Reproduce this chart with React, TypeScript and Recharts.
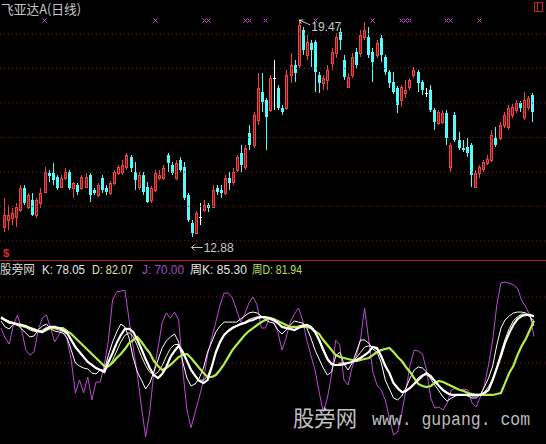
import {
  ComposedChart,
  LineChart,
  Bar,
  Line,
  XAxis,
  YAxis,
  ReferenceLine,
  ReferenceDot,
} from "recharts";

// daily bars
const OPEN = [
  13.18, 13.4, 13.46, 13.49, 13.7, 14.37, 13.79, 14.0, 13.55, 13.91,
  14.25, 14.82, 14.82, 14.7, 14.4, 14.67, 14.85, 14.37, 14.46, 14.37,
  14.4, 14.76, 14.31, 14.16, 14.67, 14.37, 14.22, 14.52, 14.82, 14.85,
  15.01, 15.31, 14.85, 14.4, 14.76, 14.4, 14.0, 14.31, 14.67, 14.67,
  15.37, 15.07, 14.67, 15.22, 15.01, 14.16, 13.3, 13.0, 13.49, 13.7,
  13.85, 13.79, 14.37, 14.31, 14.22, 14.67, 14.55, 14.91, 15.43, 15.01,
  16.04, 15.67, 16.43, 17.28, 17.04, 16.74, 17.71, 17.4, 16.8, 16.8,
  17.8, 18.1, 18.1, 19.17, 18.41, 18.77, 18.8, 17.8, 17.56, 17.65,
  18.16, 18.47, 19.11, 18.25, 17.44, 17.8, 18.5, 18.47, 18.95, 18.95,
  18.5, 18.41, 18.92, 18.35, 17.89, 17.59, 17.4, 17.04, 17.25, 17.43,
  17.8, 17.89, 17.59, 17.25, 17.34, 16.74, 16.34, 16.37, 16.65, 15.01,
  16.58, 15.83, 15.58, 15.61, 15.67, 14.4, 14.82, 14.94, 15.13, 15.22,
  15.89, 15.89, 16.28, 16.22, 16.58, 16.74, 16.95, 16.52, 16.83, 17.19,
];
const HIGH = [
  14.06, 13.85, 13.76, 13.91, 14.46, 14.46, 14.22, 14.22, 14.06, 14.37,
  15.0, 14.91, 15.13, 14.76, 14.76, 14.97, 14.91, 14.55, 14.52, 14.76,
  14.82, 14.82, 14.37, 14.52, 14.76, 14.46, 14.58, 14.91, 15.07, 15.22,
  15.43, 15.37, 15.16, 14.85, 14.85, 14.55, 14.43, 14.91, 14.91, 15.07,
  15.43, 15.16, 15.22, 15.31, 15.16, 14.22, 13.4, 13.67, 13.91, 14.0,
  13.91, 14.46, 14.46, 14.46, 14.76, 14.85, 14.97, 15.37, 15.67, 15.67,
  16.28, 16.67, 17.86, 17.86, 17.1, 17.8, 18.25, 17.5, 16.89, 17.95,
  18.47, 18.25, 19.47, 19.26, 19.01, 18.86, 18.86, 17.89, 17.8, 18.1,
  18.62, 19.08, 19.23, 18.41, 17.86, 18.47, 18.62, 19.17, 19.41, 19.26,
  18.62, 18.86, 19.01, 18.41, 17.95, 17.89, 17.46, 17.5, 17.65, 17.71,
  18.04, 17.95, 17.65, 17.4, 17.5, 16.8, 16.74, 16.74, 16.74, 15.73,
  16.67, 16.07, 15.83, 15.89, 15.73, 14.91, 15.07, 15.22, 15.37, 16.13,
  16.22, 16.37, 16.67, 16.89, 16.92, 17.04, 17.01, 17.28, 17.16, 17.25,
];
const LOW = [
  13.03, 13.09, 13.24, 13.18, 13.64, 13.85, 13.73, 13.52, 13.46, 13.76,
  14.22, 14.55, 14.46, 14.31, 14.37, 14.61, 14.31, 14.06, 14.16, 14.31,
  14.37, 13.94, 14.16, 14.1, 14.22, 14.16, 14.16, 14.46, 14.76, 14.76,
  14.91, 14.85, 14.31, 14.31, 14.16, 13.91, 13.91, 14.25, 14.61, 14.61,
  14.85, 14.76, 14.61, 14.85, 14.0, 13.34, 12.88, 12.97, 13.24, 13.64,
  13.64, 13.76, 14.16, 14.06, 14.16, 14.31, 14.46, 14.85, 14.85, 14.91,
  15.52, 15.58, 16.28, 16.68, 15.52, 16.68, 16.74, 16.74, 16.58, 16.74,
  17.56, 17.59, 18.01, 18.41, 18.25, 18.04, 17.28, 17.25, 17.34, 17.34,
  17.95, 18.32, 18.56, 17.65, 17.4, 17.71, 18.01, 18.35, 18.86, 18.32,
  17.59, 18.32, 18.19, 17.8, 17.4, 17.22, 16.65, 16.83, 17.1, 17.34,
  17.71, 17.28, 17.19, 17.13, 16.68, 16.13, 16.28, 16.31, 15.67, 14.85,
  15.76, 15.52, 15.46, 15.31, 14.4, 14.37, 14.67, 14.85, 15.07, 15.16,
  15.61, 15.83, 16.19, 16.13, 16.49, 16.65, 16.68, 16.43, 16.74, 16.37,
];
const CLOSE = [
  13.55, 13.55, 13.61, 13.79, 14.37, 13.91, 14.16, 13.55, 14.0, 14.22,
  14.85, 14.73, 14.61, 14.37, 14.67, 14.85, 14.37, 14.52, 14.25, 14.7,
  14.7, 14.16, 14.22, 14.46, 14.31, 14.25, 14.52, 14.85, 15.0, 15.07,
  15.37, 14.97, 14.61, 14.76, 14.25, 13.94, 14.37, 14.82, 14.76, 14.97,
  15.13, 14.82, 15.13, 14.91, 14.06, 13.4, 13.0, 13.61, 13.49, 13.85,
  13.76, 14.31, 14.25, 14.22, 14.67, 14.52, 14.85, 15.31, 15.07, 15.58,
  15.67, 16.58, 17.4, 16.98, 16.52, 17.71, 17.71, 16.8, 16.68, 17.8,
  18.1, 17.86, 19.32, 18.56, 18.8, 18.56, 17.89, 17.56, 17.71, 17.95,
  18.5, 18.95, 18.86, 17.74, 17.74, 18.35, 18.1, 19.01, 19.17, 18.41,
  18.19, 18.77, 18.41, 17.89, 17.56, 17.28, 16.89, 17.43, 17.34, 17.65,
  17.95, 17.56, 17.34, 17.25, 16.74, 16.37, 16.68, 16.65, 15.89, 15.67,
  15.83, 15.58, 15.52, 15.43, 14.76, 14.82, 15.01, 15.16, 15.25, 15.98,
  15.67, 16.28, 16.58, 16.8, 16.83, 16.95, 16.8, 17.04, 17.1, 16.68,
];

// KDJ indicator (daily K/D/J plus weekly K/D)
const KDJ_K = [
  81.8, 77.3, 75.8, 79.5, 78.8, 75.8, 72.7, 69.7, 70.5, 75,
  78, 79.5, 75.8, 74.2, 73.5, 72.7, 69, 59.8, 50, 47.7,
  46.2, 45.5, 42.4, 41.7, 44.7, 44.7, 56, 65.9, 73.5, 79.5,
  77.3, 69, 53.8, 43.2, 37.1, 30.3, 34.9, 43.2, 52.3, 61.4,
  66.7, 69.7, 72, 65.9, 50.7, 38.6, 32.6, 34.1, 38.6, 46.2,
  58.3, 65.9, 73.5, 78, 81, 81, 81, 81, 83.3, 85.6,
  87.9, 88.6, 87.9, 85.6, 82.6, 81, 80.3, 75, 72, 75,
  78.8, 81.8, 81, 80.3, 76.5, 69, 59.8, 53, 46.2, 40.9,
  43.2, 55.3, 58.3, 49.2, 44.7, 50, 58.3, 67.4, 67.4, 65.1,
  60.6, 58.3, 50.7, 37.1, 30.3, 23.5, 22, 25, 31.1, 38.6,
  44.7, 47, 46.2, 43.2, 37.9, 33.3, 28.8, 24.2, 21.2, 23.5,
  25, 25.8, 25.8, 25, 23.5, 23.5, 25.8, 31.8, 38.6, 47.7,
  63.6, 76.5, 82.6, 85.6, 87.9, 88.6, 88.6, 87.9, 85.6, 78.05,
];
const KDJ_D = [
  84, 82, 80, 80, 79, 78, 77, 75, 74, 74,
  75, 77, 77, 76, 75, 74, 72, 68, 63, 58,
  54, 51, 48, 46, 45, 44, 47, 52, 59, 66,
  71, 73, 70, 63, 55, 48, 43, 41, 43, 48,
  55, 61, 64, 64, 59, 52, 45, 40, 37, 37,
  40, 48, 57, 65, 71, 75, 77, 78, 80, 81,
  83, 84, 85, 85, 84, 83, 82, 80, 78, 77,
  76, 77, 78, 79, 79, 78, 74, 68, 61, 54,
  49, 48, 50, 50, 50, 51, 54, 58, 62, 63,
  62, 60, 56, 49, 42, 35, 30, 28, 28, 31,
  35, 39, 41, 41, 39, 36, 32, 29, 27, 26,
  26, 26, 26, 26, 25, 25, 26, 28, 32, 38,
  47, 58, 68, 76, 82, 85, 87, 87, 85, 82.07,
];
const KDJ_J = [
  76.5, 69, 64.4, 78.8, 86.4, 75, 59.8, 56, 58.3, 75,
  84, 86.4, 76.5, 66, 71.2, 76.5, 67.4, 52.3, 27.3, 37.1,
  27.3, 39.4, 22, 35.6, 35.6, 48.5, 67.4, 97.7, 103.8, 104.5,
  105.3, 82.6, 62.1, 40.9, 16.7, -6, 12.9, 43.2, 61.4, 80.3,
  87.9, 84, 88.6, 82.6, 44.7, 14.4, 1, 12.9, 24.2, 37.1,
  56, 69, 81, 93.9, 103, 103, 99.2, 90.2, 81, 87.1,
  95.5, 100, 93.9, 76.5, 76.5, 84, 81, 73.5, 59.8, 69,
  81, 87.1, 91.7, 82.6, 67.4, 56, 44.7, 28, 12.9, 23.5,
  40.9, 67.4, 63.6, 37.1, 33.3, 47, 55.3, 67.4, 91.7, 67.4,
  43.2, 33.3, 29.5, 22, 8.3, -4.5, -2.3, 12.1, 29.5, 48.5,
  59.8, 59, 56.8, 44.7, 23.5, 15.9, 16.7, 14.4, 19.7, 29.5,
  31.1, 29.5, 30.3, 29.5, 19.7, 16.7, 24.2, 33.3, 48.5, 67.4,
  93.9, 110.6, 111.4, 110.6, 109.1, 106.8, 97.7, 92.4, 86.4, 70,
];
const WEEK_K = [
  84.1, 82.6, 81, 80.3, 79.5, 78.8, 78, 76.5, 75, 74.2,
  73.5, 75.8, 77.3, 77.3, 76.5, 75, 72.7, 67.4, 62.1, 58.3,
  54.5, 50.8, 48.5, 46.2, 44.7, 43.2, 50.8, 57.6, 65.2, 71.2,
  75.8, 75.8, 73.5, 67.4, 60.6, 53, 46.2, 40.9, 38.6, 41.7,
  47, 54.5, 59.1, 62.9, 58.3, 51.5, 44.7, 40.2, 36.4, 34.8,
  37.1, 47, 58.3, 65.9, 71.2, 74.2, 76.5, 78, 79.5, 80.3,
  81.8, 82.6, 84.1, 84.8, 84.8, 84.1, 82.6, 80.3, 77.3, 76.5,
  75.8, 75, 76.5, 78, 78.8, 77.3, 73.5, 67.4, 59.8, 53,
  49.2, 48.5, 48.5, 49.2, 50, 50.8, 52.3, 53.8, 56, 58.3,
  62.1, 61.4, 55.3, 47.7, 42.4, 34.8, 31.1, 28, 28.8, 31.1,
  34.1, 37.1, 40.2, 42.4, 40.2, 36.4, 32.6, 29.5, 27.3, 25.8,
  25.8, 25.8, 25.8, 25.8, 25.8, 25.8, 25.8, 27.3, 29.5, 37.1,
  46.2, 55.3, 65.2, 72.7, 78.8, 83.3, 85.6, 86.4, 86.4, 85.3,
];
const WEEK_D = [
  84.8, 82.6, 81, 80.3, 78.8, 78, 77.3, 76.5, 75.8, 74.2,
  73.5, 75, 76.5, 76.5, 76.5, 76.5, 74.2, 72, 69, 65.9,
  62.9, 59.8, 56.8, 53.8, 50.8, 47.7, 47.7, 50, 53.8, 56.8,
  60.6, 65.2, 67.4, 69.7, 65.9, 61.4, 57.6, 51.5, 47.7, 44.7,
  46.2, 48.5, 51.5, 54.5, 56, 56.8, 53.8, 50, 46.2, 42.4,
  39.4, 39.4, 40.9, 44.7, 49.2, 54.5, 59.8, 63.6, 67.4, 71.2,
  74.2, 76.5, 78.8, 81, 82.6, 84.1, 83.3, 81.8, 80.3, 78.8,
  77.3, 77.3, 77.3, 77.3, 77.3, 76.5, 74.2, 72, 67.4, 63.6,
  59.8, 56, 54.5, 53.8, 53, 52.3, 51.5, 52.3, 53, 53.8,
  56, 58.3, 59.8, 60.6, 61.4, 58.3, 54.5, 51.5, 47, 43.2,
  38.6, 34.1, 32.6, 31.8, 32.6, 34.8, 36.4, 35.6, 34.1, 32.6,
  31.1, 29.5, 28.8, 27.3, 26.5, 25.8, 25.8, 25.8, 25.8, 25.8,
  26.5, 27.3, 34.8, 42.4, 47.7, 56, 62.9, 68.2, 75, 81.94,
];

// bars flagged in the signal row along the top edge
const SIGNAL_BARS = [10, 37, 49, 50, 59, 60, 64, 76, 90, 97, 98, 99, 108, 109, 116];
const SIGNAL_PRICE = 19.48;

const PRICE_GRID = [19.04, 18.0, 16.95, 15.9, 14.85, 13.81, 12.76];
const KDJ_GRID = [100, 50];

const PEAK = { bar: 72, price: 19.47 };
const TROUGH = { bar: 46, price: 12.88 };

const W = 546;
const PRICE_H = 261;
const KDJ_TOP = 262;
const KDJ_H = 182;
const PAD = { left: 1, right: 12 };

const UP = "#f04444";
const UP_FILL = "#7a1c1c";
const DOWN = "#54fcfc";
const GRID = "#8c2222";
const LABEL = "#c8c8c8";
const SANS = "'Liberation Sans', Arial, 'Noto Sans CJK SC', sans-serif";
const CJK = "'Noto Sans CJK SC', 'Liberation Sans', sans-serif";

const rows = OPEN.map((open, i) => ({
  i,
  open,
  high: HIGH[i],
  low: LOW[i],
  close: CLOSE[i],
  range: [LOW[i], HIGH[i]],
  signal: SIGNAL_BARS.includes(i) ? SIGNAL_PRICE : null,
  k: KDJ_K[i],
  d: KDJ_D[i],
  j: KDJ_J[i],
  wk: WEEK_K[i],
  wd: WEEK_D[i],
}));

function Candle(props: any) {
  const { x, y, width, height, payload } = props;
  if (x == null || y == null || !payload) return null;
  const { open, close, high, low } = payload;
  const top = Math.min(y, y + height);
  const span = Math.abs(height);
  const toY = (p: number) =>
    high === low ? top : top + ((high - p) / (high - low)) * span;
  const c = Math.round(x + width / 2);
  const yh = Math.round(toY(high));
  const yl = Math.round(toY(low));
  const yo = Math.round(toY(open));
  const yc = Math.round(toY(close));

  if (close > open) {
    // hollow red body, wick stops at the body
    return (
      <g stroke={UP} strokeWidth={1} shapeRendering="crispEdges">
        <line x1={c + 0.5} x2={c + 0.5} y1={yh} y2={yc} />
        <line x1={c + 0.5} x2={c + 0.5} y1={yo} y2={yl} />
        <rect x={c - 0.5} y={yc + 0.5} width={2} height={Math.max(yo - yc, 1)} fill={UP_FILL} />
      </g>
    );
  }
  if (close < open) {
    return (
      <g shapeRendering="crispEdges">
        <line x1={c + 0.5} x2={c + 0.5} y1={yh} y2={yl} stroke={DOWN} />
        <rect x={c - 1} y={yo} width={3} height={Math.max(yc - yo, 1)} fill={DOWN} />
      </g>
    );
  }
  return (
    <g stroke="#ffffff" shapeRendering="crispEdges">
      <line x1={c + 0.5} x2={c + 0.5} y1={yh} y2={yl} />
      <line x1={c - 1} x2={c + 2} y1={yc + 0.5} y2={yc + 0.5} />
    </g>
  );
}

function SignalMark(props: any) {
  const { cx, cy, value, index } = props;
  if (value == null || cx == null || cy == null) return <g key={index} />;
  const c = Math.round(cx) + 0.5;
  const m = Math.round(cy) + 0.5;
  return (
    <g key={index} stroke="#d23cd2" strokeWidth={1}>
      <line x1={c - 2} y1={m - 2} x2={c + 2} y2={m + 2} />
      <line x1={c - 2} y1={m + 2} x2={c + 2} y2={m - 2} />
    </g>
  );
}

function PeakTag(props: any) {
  const { cx, cy } = props;
  if (cx == null) return null;
  return (
    <g>
      <g stroke={LABEL} strokeWidth={1} fill="none">
        <line x1={cx + 1} y1={cy} x2={cx + 12} y2={cy + 5} />
        <line x1={cx + 1} y1={cy} x2={cx + 5} y2={cy} />
        <line x1={cx + 1} y1={cy} x2={cx + 3} y2={cy + 4} />
      </g>
      <text x={cx + 13} y={cy + 11} fontSize={12} fill={LABEL} fontFamily={SANS}>
        {PEAK.price.toFixed(2)}
      </text>
    </g>
  );
}

function TroughTag(props: any) {
  const { cx, cy } = props;
  if (cx == null) return null;
  const ay = cy + 10.5;
  return (
    <g>
      <g stroke={LABEL} strokeWidth={1} fill="none">
        <line x1={cx} y1={ay} x2={cx + 11} y2={ay} />
        <line x1={cx} y1={ay} x2={cx + 3} y2={ay - 3} />
        <line x1={cx} y1={ay} x2={cx + 3} y2={ay + 3} />
      </g>
      <text x={cx + 12} y={ay + 4.5} fontSize={12} fill={LABEL} fontFamily={SANS}>
        {TROUGH.price.toFixed(2)}
      </text>
    </g>
  );
}

export default function App() {
  return (
    <div
      style={{
        position: "fixed",
        left: 0,
        top: 0,
        width: W,
        height: 444,
        background: "#000",
        overflow: "hidden",
      }}
    >
      <div style={{ position: "absolute", left: 0, top: 0 }}>
        <ComposedChart width={W} height={PRICE_H} data={rows} margin={{ top: 0, right: 0, bottom: 0, left: 0 }}>
          <XAxis dataKey="i" hide padding={PAD} />
          <YAxis hide domain={[12.151, 20.077]} allowDataOverflow />
          {PRICE_GRID.map((p) => (
            <ReferenceLine key={p} y={p} stroke={GRID} strokeDasharray="1 3" />
          ))}
          <Bar dataKey="range" barSize={3} shape={Candle} isAnimationActive={false} />
          <Line
            dataKey="signal"
            stroke="none"
            dot={(p: any) => <SignalMark key={p.index} {...p} />}
            activeDot={false}
            isAnimationActive={false}
          />
          <ReferenceDot x={PEAK.bar} y={PEAK.price} r={0} shape={PeakTag} />
          <ReferenceDot x={TROUGH.bar} y={TROUGH.price} r={0} shape={TroughTag} />
        </ComposedChart>
      </div>

      <div style={{ position: "absolute", left: 0, top: KDJ_TOP }}>
        <LineChart width={W} height={KDJ_H} data={rows} margin={{ top: 0, right: 0, bottom: 0, left: 0 }}>
          <XAxis dataKey="i" hide padding={PAD} />
          <YAxis hide domain={[-11.36, 126.52]} allowDataOverflow />
          {KDJ_GRID.map((v) => (
            <ReferenceLine key={v} y={v} stroke={GRID} strokeDasharray="1 3" />
          ))}
          <Line dataKey="j" stroke="#c04ad8" strokeWidth={1} dot={false} isAnimationActive={false} />
          <Line dataKey="d" stroke="#f4f4c0" strokeWidth={1} dot={false} isAnimationActive={false} />
          <Line dataKey="k" stroke="#ffffff" strokeWidth={1} dot={false} isAnimationActive={false} />
          <Line dataKey="wd" stroke="#b4ec48" strokeWidth={2.2} dot={false} isAnimationActive={false} />
          <Line dataKey="wk" stroke="#ffffff" strokeWidth={2.2} dot={false} isAnimationActive={false} />
        </LineChart>
      </div>

      <svg width={W} height={444} style={{ position: "absolute", left: 0, top: 0, pointerEvents: "none" }}>
        <text x={1} y={14} fontSize={13} fill="#c4c4c4" fontFamily={CJK} textLength={80} lengthAdjust="spacingAndGlyphs">
          飞亚达A(日线)
        </text>
        <g stroke="#c02828" fill="none" shapeRendering="crispEdges">
          <rect x={534.5} y={2.5} width={8} height={9} />
          <line x1={537.5} y1={3} x2={537.5} y2={11} />
        </g>
        <text x={3} y={257} fontSize={11} fontWeight="bold" fill="#e02828" fontFamily={SANS}>
          $
        </text>
        <line x1={0} x2={W} y1={260.5} y2={260.5} stroke="#b41e1e" strokeWidth={1} />

        <g fontSize={12} fontFamily={SANS}>
          <text x={0} y={274} fill="#d8d8d8" fontFamily={CJK} textLength={35} lengthAdjust="spacingAndGlyphs">
            股旁网
          </text>
          <text x={42} y={274} fill="#e6e6e6" textLength={43} lengthAdjust="spacingAndGlyphs">
            K: 78.05
          </text>
          <text x={92} y={274} fill="#e4e4a8" textLength={41} lengthAdjust="spacingAndGlyphs">
            D: 82.07
          </text>
          <text x={142} y={274} fill="#a848c8" textLength={42} lengthAdjust="spacingAndGlyphs">
            J: 70.00
          </text>
          <text x={190} y={274} fill="#e6e6e6" textLength={57} lengthAdjust="spacingAndGlyphs">
            周K: 85.30
          </text>
          <text x={252} y={274} fill="#b4e05a" textLength={50} lengthAdjust="spacingAndGlyphs">
            周D: 81.94
          </text>
        </g>

        <text x={293} y={426} fontSize={22} fill="#c0c0c0" fontFamily={CJK} textLength={64} lengthAdjust="spacingAndGlyphs">
          股旁网
        </text>
        <text x={372} y={425} fontSize={18} fill="#bcbcbc" fontFamily="'Liberation Mono', monospace" textLength={158} lengthAdjust="spacingAndGlyphs">
          www. gupang. com
        </text>
      </svg>
    </div>
  );
}
